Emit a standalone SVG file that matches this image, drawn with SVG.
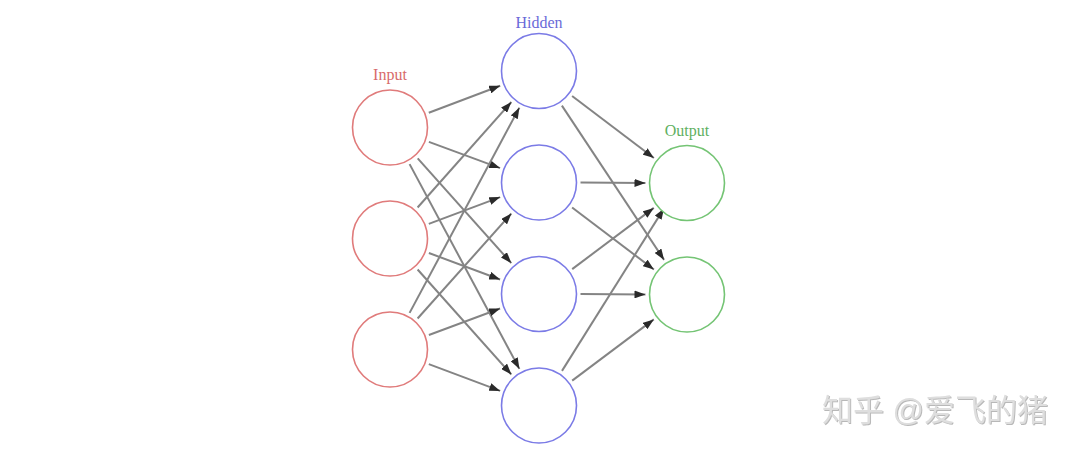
<svg xmlns="http://www.w3.org/2000/svg" width="1080" height="455" viewBox="0 0 1080 455">
<defs>
<marker id="ah" markerUnits="userSpaceOnUse" markerWidth="11" markerHeight="8" refX="11" refY="4" orient="auto">
<path d="M0,0 L11,4 L0,8 z" fill="#2a2a2a"/>
</marker>
<filter id="emb" x="-5%" y="-20%" width="110%" height="140%">
<feDropShadow dx="1" dy="1" stdDeviation="0.5" flood-color="#9a9a9a" flood-opacity="0.7"/>
</filter>
</defs>
<style>
.in{fill:#fff;stroke:#e07b7b;stroke-width:1.6}
.hd{fill:#fff;stroke:#7b7be6;stroke-width:1.6}
.out{fill:#fff;stroke:#74c474;stroke-width:1.6}
.lbl{font-family:"Liberation Serif","DejaVu Serif",serif;font-size:16px;text-anchor:middle}
#edges line{stroke:#848484;stroke-width:2;marker-end:url(#ah)}
.wm{font-family:"Liberation Sans","Noto Sans CJK SC",sans-serif;font-size:31px;fill:#dedede}
</style>
<rect width="1080" height="455" fill="#fff"/>
<g id="edges">
<line x1="428.8" y1="112.8" x2="500.2" y2="85.7"/>
<line x1="428.9" y1="141.9" x2="500.1" y2="168.1"/>
<line x1="417.7" y1="158.4" x2="511.3" y2="263.1"/>
<line x1="409.6" y1="164.1" x2="519.4" y2="368.9"/>
<line x1="417.6" y1="207.5" x2="511.4" y2="102.0"/>
<line x1="428.8" y1="223.9" x2="500.2" y2="197.1"/>
<line x1="428.9" y1="253.0" x2="500.1" y2="279.5"/>
<line x1="417.6" y1="269.5" x2="511.4" y2="374.5"/>
<line x1="409.6" y1="312.9" x2="519.4" y2="107.6"/>
<line x1="417.6" y1="318.5" x2="511.4" y2="213.5"/>
<line x1="428.9" y1="335.0" x2="500.1" y2="308.5"/>
<line x1="428.8" y1="364.1" x2="500.2" y2="390.9"/>
<line x1="572.1" y1="96.0" x2="653.9" y2="158.0"/>
<line x1="561.9" y1="105.6" x2="664.1" y2="259.9"/>
<line x1="580.5" y1="182.5" x2="645.5" y2="183"/>
<line x1="572.1" y1="207.5" x2="653.9" y2="269.5"/>
<line x1="572.2" y1="269.1" x2="653.8" y2="207.9"/>
<line x1="580.5" y1="294" x2="645.5" y2="294.5"/>
<line x1="562.0" y1="370.9" x2="664.0" y2="208.4"/>
<line x1="572.2" y1="380.6" x2="653.8" y2="319.4"/>
</g>
<g id="input1"><circle class="in" cx="390" cy="127.5" r="37.5"/><text class="lbl" x="390" y="80" fill="#d86a6a">Input</text></g>
<g id="input2"><circle class="in" cx="390" cy="238.5" r="37.5"/></g>
<g id="input3"><circle class="in" cx="390" cy="349.5" r="37.5"/></g>
<g id="hidden1"><circle class="hd" cx="539" cy="71" r="37.5"/><text class="lbl" x="539" y="28" fill="#6a6ad8">Hidden</text></g>
<g id="hidden2"><circle class="hd" cx="539" cy="182.5" r="37.5"/></g>
<g id="hidden3"><circle class="hd" cx="539" cy="294" r="37.5"/></g>
<g id="hidden4"><circle class="hd" cx="539" cy="405.5" r="37.5"/></g>
<g id="output1"><circle class="out" cx="687" cy="183" r="37.5"/><text class="lbl" x="687" y="136" fill="#5fb05f">Output</text></g>
<g id="output2"><circle class="out" cx="687" cy="294.5" r="37.5"/></g>
<g id="watermark"><text class="wm" x="822" y="421" filter="url(#emb)">知乎 @爱飞的猪</text></g>
</svg>
